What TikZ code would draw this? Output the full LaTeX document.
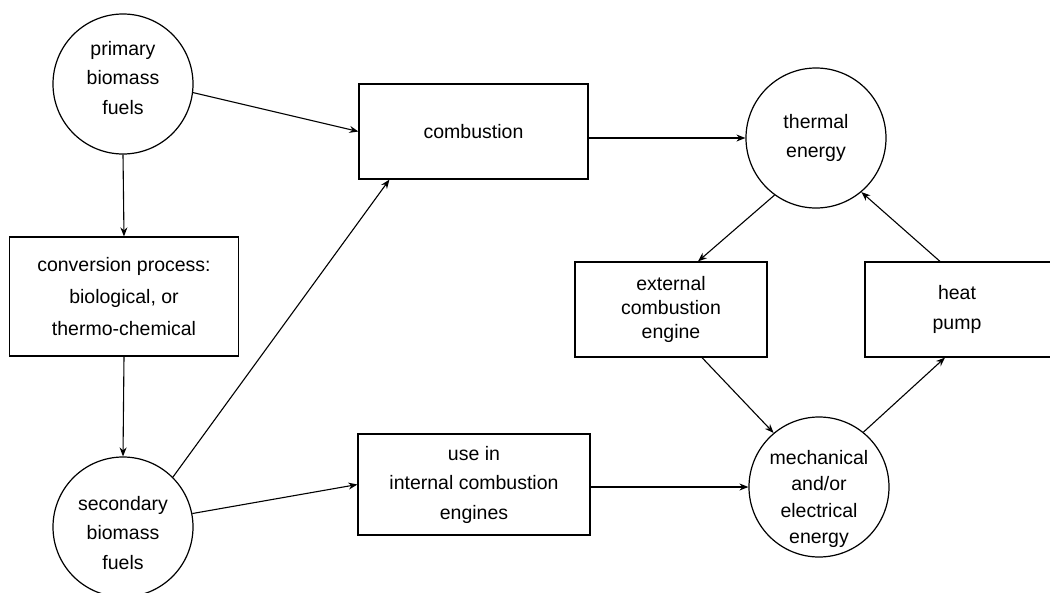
\documentclass[tikz,border=0pt]{standalone}
\usepackage{fontspec}
\setmainfont{Liberation Sans}
\usetikzlibrary{arrows.meta}
\begin{document}
\begin{tikzpicture}[x=1pt,y=-1pt,
  every node/.style={font=\fontsize{19.5}{29.5}\selectfont, align=center, inner sep=0pt},
  fuel/.style={draw, circle, line width=1.2pt, minimum size=140pt},
  proc/.style={draw, rectangle, line width=1.2pt},
  flow/.style={line width=1.1pt, -{Stealth[length=9pt,width=7pt]}}]
\useasboundingbox (0,0) rectangle (1050,592);
\fill[white] (0,0) rectangle (1050,592);
% circles
\node[fuel] (prim) at (123,84) {};
\node at (123,78) {primary\\biomass\\fuels};
\node[fuel] (sec) at (123,527) {};
\node at (123,533) {secondary\\biomass\\fuels};
\node[fuel] (therm) at (816,138) {thermal\\energy};
\node[fuel] (mech) at (819,487) {};
\node[font=\fontsize{19.5}{26.5}\selectfont] at (819,499) {mechanical\\and/or\\electrical\\energy};
% boxes
\node[proc, minimum width=229pt, minimum height=95pt] (comb) at (473.5,131.5) {combustion};
\node[proc, minimum width=229pt, minimum height=119pt, font=\fontsize{19.5}{32}\selectfont] (conv) at (124,296.5) {conversion process:\\biological, or\\thermo-chemical};
\node[proc, minimum width=192pt, minimum height=95pt, font=\fontsize{19.5}{24}\selectfont] (ext) at (671,309.5) {external\\combustion\\engine};
\node[proc, minimum width=195pt, minimum height=95pt] (heat) at (962.5,309.5) {};
\node (heattext) at (957,309.5) {heat\\pump};
\node[proc, minimum width=232pt, minimum height=101pt] (ice) at (474,484.5) {use in\\internal combustion\\engines};
% connectors
\draw[flow] (prim.-7) -- (comb.west);
\draw[flow] (prim.south) -- (conv.north);
\draw[flow] (conv.south) -- (sec.north);
\draw[flow] (sec.45) -- ([xshift=31pt]comb.south west);
\draw[flow] (sec.11) -- (ice.west);
\draw[flow] (comb.east |- therm.west) -- (therm.west);
\draw[flow] (ice.east |- mech.west) -- (mech.west);
\draw[flow] (therm.234) -- ([xshift=27pt]ext.north);
\draw[flow] ([xshift=-22.5pt]heat.north) -- (therm.310);
\draw[flow] ([xshift=31pt]ext.south) -- (mech.130);
\draw[flow] (mech.51) -- ([xshift=-17.5pt]heat.south);
\end{tikzpicture}
\end{document}
